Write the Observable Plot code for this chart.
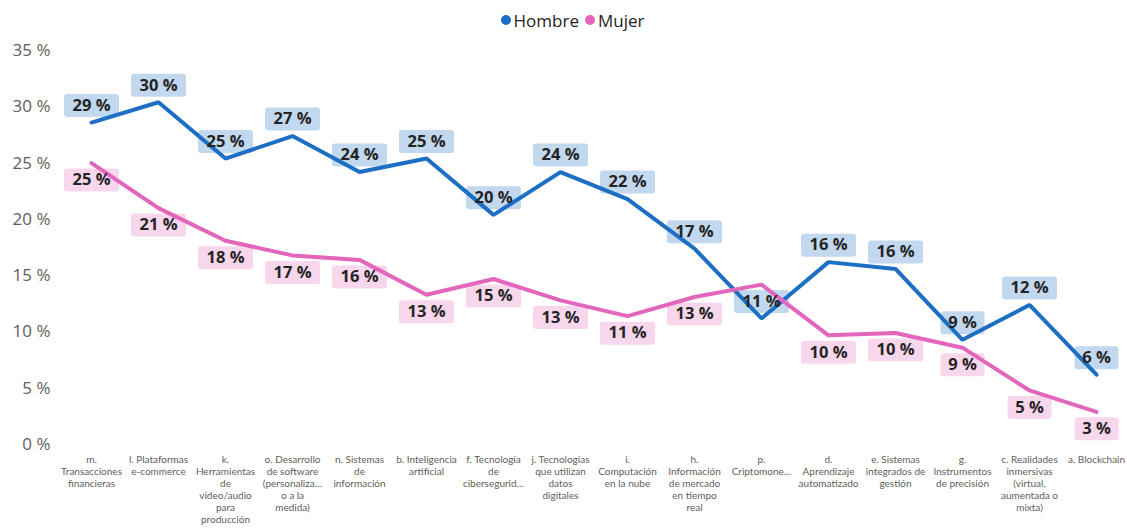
<!DOCTYPE html>
<html><head><meta charset="utf-8">
<script src="https://cdn.jsdelivr.net/npm/d3@7"></script>
<script src="https://cdn.jsdelivr.net/npm/@observablehq/plot@0.6"></script>
<style>
body{margin:0;background:#fff;font-family:"Open Sans","Noto Sans",sans-serif;}
#legend{height:40px;display:flex;justify-content:center;align-items:center;font-size:17px;color:#252423;padding-left:18px;box-sizing:border-box;}
#legend .item{display:flex;align-items:center;margin:0 3px;}
#legend .sw{width:10px;height:10px;border-radius:50%;display:inline-block;margin-right:3px;}
#chart svg{display:block;}
</style></head><body>
<div id="legend"></div>
<div id="chart"></div>
<script>
const categories = [
  "m. Transacciones financieras","l. Plataformas e-commerce","k. Herramientas de video/audio para producción",
  "o. Desarrollo de software (personalizado o a la medida)","n. Sistemas de información","b. Inteligencia artificial",
  "f. Tecnología de ciberseguridad","j. Tecnologías que utilizan datos digitales","i. Computación en la nube",
  "h. Información de mercado en tiempo real","p. Criptomonedas","d. Aprendizaje automatizado",
  "e. Sistemas integrados de gestión","g. Instrumentos de precisión","c. Realidades inmersivas (virtual, aumentada o mixta)","a. Blockchain"
];
const tickLabels = [
  "m.\nTransacciones\nfinancieras","l. Plataformas\ne-commerce","k.\nHerramientas\nde\nvideo/audio\npara\nproducción",
  "o. Desarrollo\nde software\n(personaliza…\no a la\nmedida)","n. Sistemas\nde\ninformación","b. Inteligencia\nartificial",
  "f. Tecnología\nde\ncibersegurid…","j. Tecnologías\nque utilizan\ndatos\ndigitales","i.\nComputación\nen la nube",
  "h.\nInformación\nde mercado\nen tiempo\nreal","p.\nCriptomone…","d.\nAprendizaje\nautomatizado",
  "e. Sistemas\nintegrados de\ngestión","g.\nInstrumentos\nde precisión","c. Realidades\ninmersivas\n(virtual,\naumentada o\nmixta)","a. Blockchain"
];
const hombre = [28.6,30.4,25.4,27.4,24.2,25.4,20.4,24.2,21.8,17.4,11.2,16.2,15.6,9.3,12.4,6.2];
const mujer  = [25.0,21.0,18.1,16.8,16.4,13.3,14.7,12.8,11.4,13.1,14.2,9.7,9.9,8.6,4.8,2.9];
const mujerLabelShown = [1,1,1,1,1,1,1,1,1,1,0,1,1,1,1,1];
const yTicks = [0,5,10,15,20,25,30,35];
const series = ["Hombre","Mujer"];
const lineColors = ["#1c6fc4","#e366bd"];
const boxColors = ["#c2d8ef","#f8d7ec"];

const data = categories.flatMap((c,i)=>[
  {cat:c, serie:"Hombre", value:hombre[i], show:true},
  {cat:c, serie:"Mujer", value:mujer[i], show:!!mujerLabelShown[i]}
]);

function roundBox(w,h,r){
  return {draw(ctx){
    const x0=-w/2,y0=-h/2,x1=w/2,y1=h/2;
    ctx.moveTo(x0+r,y0);
    ctx.arcTo(x1,y0,x1,y1,r);
    ctx.arcTo(x1,y1,x0,y1,r);
    ctx.arcTo(x0,y1,x0,y0,r);
    ctx.arcTo(x0,y0,x1,y0,r);
    ctx.closePath();
  }};
}
const fmt = v => Math.round(v) + " %";
const labelFont = {fontSize:16.5, fontWeight:700, fill:"#252423"};

function boxes(serie, dy, color){
  const d = data.filter(p=>p.serie===serie && p.show);
  return [
    Plot.dot(d.filter(p=>Math.round(p.value)>=10), {x:"cat", y:"value", dy, symbol:roundBox(55,23,3), fill:color, stroke:null}),
    Plot.dot(d.filter(p=>Math.round(p.value)<10), {x:"cat", y:"value", dy, symbol:roundBox(44,23,3), fill:color, stroke:null})
  ];
}
function labels(serie, dy){
  const d = data.filter(p=>p.serie===serie && p.show);
  return Plot.text(d, {x:"cat", y:"value", dy, text:p=>fmt(p.value), ...labelFont});
}

const legend = document.getElementById("legend");
series.forEach((s,i)=>{
  const it = document.createElement("span"); it.className="item";
  it.innerHTML = `<span class="sw" style="background:${lineColors[i]}"></span>${s}`;
  legend.appendChild(it);
});

const chart = Plot.plot({
  width:1127, height:489,
  marginLeft:87, marginRight:28, marginTop:10, marginBottom:85,
  style:{fontFamily:'"Open Sans","Noto Sans",sans-serif', background:"transparent", overflow:"visible"},
  x:{type:"point", domain:categories, padding:0, label:null},
  y:{domain:[0,35], label:null},
  color:{domain:series, range:lineColors},
  marks:[
    Plot.axisY({ticks:yTicks, tickSize:0, tickPadding:37, tickFormat:d=>d+" %", fontSize:17, fill:"#605e5c", label:null}),
    Plot.axisX({tickSize:0, tickPadding:10, tickFormat:d=>tickLabels[categories.indexOf(d)], fontSize:10, fontFamily:"Lato, sans-serif", lineHeight:1.2, fill:"#605e5c", label:null}),
    ...boxes("Hombre", -17, boxColors[0]),
    ...boxes("Mujer", 17, boxColors[1]),
    Plot.lineY(data, {x:"cat", y:"value", stroke:"serie", strokeWidth:4, strokeLinejoin:"miter"}),
    labels("Hombre", -17),
    labels("Mujer", 17)
  ]
});
document.getElementById("chart").appendChild(chart);
</script>
</body></html>
